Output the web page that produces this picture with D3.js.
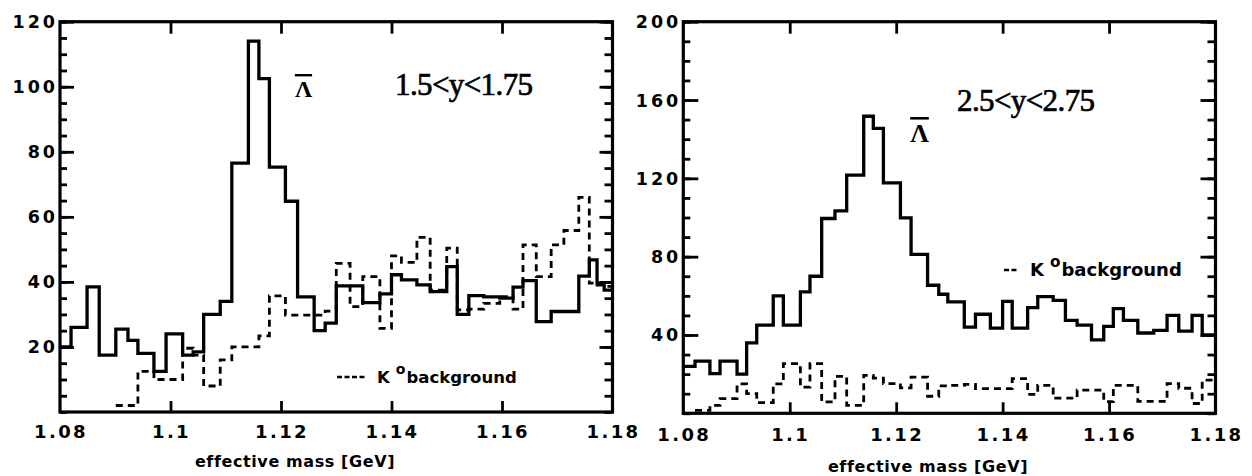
<!DOCTYPE html>
<html><head><meta charset="utf-8">
<script src="https://cdn.jsdelivr.net/npm/d3@7"></script>
<style>
body{margin:0;background:#fff;}
svg{display:block;}
.lam{text-decoration:overline;text-decoration-thickness:2.5px;}
</style></head><body>
<svg id="c" width="1252" height="476"></svg>
<script>
// ---------------- data ----------------
const xTickValues = [1.08, 1.1, 1.12, 1.14, 1.16, 1.18];
const xTickLabels = ["1.08", "1.1", "1.12", "1.14", "1.16", "1.18"];
const xInnerTicks = [1.1, 1.12, 1.14, 1.16];
const leftYTicks = [20, 40, 60, 80, 100, 120];
const rightYTicks = [40, 80, 120, 160, 200];
const xTitle = "effective mass [GeV]";
const leftRange = "1.5<y<1.75";
const rightRange = "2.5<y<2.75";
const particleLabel = "Λ";   // drawn with an overline (anti-Lambda)

// left panel (1.5<y<1.75): bin edges [GeV], Lambda-bar signal, K0 background
const leftEdges = [1.0800,1.0820,1.0849,1.0871,1.0901,1.0923,1.0941,1.0970,1.0992,1.1022,
  1.1041,1.1060,1.1090,1.1111,1.1141,1.1160,1.1179,1.1208,1.1230,1.1260,1.1280,1.1300,
  1.1325,1.1348,1.1379,1.1400,1.1418,1.1446,1.1470,1.1500,1.1519,1.1540,1.1567,1.1596,
  1.1620,1.1638,1.1662,1.1689,1.1712,1.1739,1.1758,1.1772,1.1785,1.1800];
const leftSignal = [20,26,38.5,17.5,25.5,22,18,12.5,24,17.5,18.5,30,34,76.5,114,102.5,75.3,
  64.8,35.4,25,27.3,38.8,38.8,33.6,36.3,42.2,40.6,39.1,37,44.7,30,35.8,35.4,35,38.4,40.4,
  27.8,30.9,30.9,41.8,46.8,39.6,37.5];
const leftBackground = [null,null,null,null,2,2,12.5,10,10,19.6,17.5,8,16,20,20,23.4,35.7,
  29.8,29.8,29.8,31,45.7,32.4,41.6,25.7,48,46,53.7,37.5,50.4,31.4,31.6,33.4,35.5,31.6,51.4,
  41.6,51.4,55.8,66,39.6,39,38.6];

// right panel (2.5<y<2.75)
const rightEdges = [1.0800,1.0822,1.0850,1.0869,1.0901,1.0919,1.0938,1.0969,1.0988,1.1020,
  1.1038,1.1060,1.1085,1.1107,1.1139,1.1157,1.1176,1.1208,1.1228,1.1259,1.1280,1.1297,
  1.1328,1.1349,1.1377,1.1400,1.1418,1.1447,1.1466,1.1495,1.1518,1.1540,1.1567,1.1590,
  1.1608,1.1627,1.1654,1.1684,1.1709,1.1731,1.1756,1.1775,1.1800];
const rightSignal = [24,26.6,20.3,26.6,20,36,45,60,45,62,70,99.5,103.4,121.6,151.7,145.5,
  117.7,99.8,81.2,65.4,60.8,56.9,44,50.6,43.5,57.2,43.5,54,59.6,57.7,47.5,45,37.5,44.4,
  53.5,47.5,41,42.4,50,42,50,40];
const rightBackground = [null,1.5,4,7.5,15,10,5.5,15,25.4,13.4,25.4,5.8,18.9,4,19.4,18,
  15.2,13,18.5,8.7,14,14.3,14.8,12.6,12.6,12.6,17.7,9.7,14.3,7.7,7.7,11.8,11.8,6,14.3,
  14.3,6.1,6.1,15.2,12.8,5,16.9];

// ---------------- layout ----------------
const panels = [
  {edges:leftEdges, sig:leftSignal, bg:leftBackground, yTicks:leftYTicks, ymax:120, nMinor:24,
   x0:60, x1:612.5, top:21.7, bottom:412, majLen:14, minLen:7, rMajLen:13, rMinLen:8,
   range:leftRange, rangeX:395, rangeY:94.5, lamX:303.5, lamY:97, lamSize:24,
   legX:337, legY:383, legDashW:28, legSize:16.5, titleX:295, titleY:467, xLabY:438},
  {edges:rightEdges, sig:rightSignal, bg:rightBackground, yTicks:rightYTicks, ymax:200, nMinor:20,
   x0:683.3, x1:1215.5, top:21.7, bottom:413.3, majLen:15, minLen:7, rMajLen:15, rMinLen:8,
   range:rightRange, rangeX:957, rangeY:110.5, lamX:919.5, lamY:142, lamSize:26,
   legX:1004, legY:276, legDashW:14, legSize:18, titleX:928, titleY:472, xLabY:441}
];

const svg = d3.select("#c");
const sansB = "'DejaVu Sans', 'Liberation Sans', Arial, sans-serif";
const serif = "'Liberation Serif', 'Times New Roman', serif";

panels.forEach(p => {
  const x = d3.scaleLinear().domain([1.08, 1.18]).range([p.x0, p.x1]);
  const y = d3.scaleLinear().domain([0, p.ymax]).range([p.bottom, p.top]);
  const g = svg.append("g");

  const minor = y.ticks(p.nMinor);
  const tickStyle = sel => {
    sel.select(".domain").remove();
    sel.selectAll("line").attr("stroke", "#000").attr("stroke-width", 2.8);
    sel.selectAll("text").remove();
  };
  g.append("g").attr("transform", `translate(${p.x0},0)`)
    .call(d3.axisRight(y).tickValues(minor).tickSize(p.minLen)).call(tickStyle);
  g.append("g").attr("transform", `translate(${p.x0},0)`)
    .call(d3.axisRight(y).tickValues(p.yTicks).tickSize(p.majLen)).call(tickStyle);
  g.append("g").attr("transform", `translate(${p.x1},0)`)
    .call(d3.axisLeft(y).tickValues(minor).tickSize(p.rMinLen)).call(tickStyle);
  g.append("g").attr("transform", `translate(${p.x1},0)`)
    .call(d3.axisLeft(y).tickValues(p.yTicks).tickSize(p.rMajLen)).call(tickStyle);
  g.append("g").attr("transform", `translate(0,${p.top})`)
    .call(d3.axisBottom(x).tickValues(xInnerTicks).tickSize(12)).call(tickStyle);
  g.append("g").attr("transform", `translate(0,${p.bottom})`)
    .call(d3.axisTop(x).tickValues(xInnerTicks).tickSize(11)).call(tickStyle);

  g.append("rect").attr("x", p.x0).attr("y", p.top)
    .attr("width", p.x1 - p.x0).attr("height", p.bottom - p.top)
    .attr("fill", "none").attr("stroke", "#000").attr("stroke-width", 3.2);

  // y labels
  g.selectAll(".yl").data(p.yTicks).enter().append("text")
    .attr("x", p.x0 - 2).attr("y", d => y(d) + 6.5)
    .attr("text-anchor", "end")
    .attr("font-family", sansB).attr("font-weight", "bold").attr("font-size", 17.5)
    .attr("letter-spacing", 3)
    .text(d => d);

  // x labels
  g.selectAll(".xl").data(xTickValues).enter().append("text")
    .attr("x", (d) => x(d) + 1).attr("y", p.xLabY)
    .attr("text-anchor", "middle")
    .attr("font-family", sansB).attr("font-weight", "bold").attr("font-size", 18)
    .attr("letter-spacing", 2.4)
    .text((d, i) => xTickLabels[i]);

  // axis title
  g.append("text").attr("x", p.titleX).attr("y", p.titleY).attr("text-anchor", "middle")
    .attr("font-family", sansB).attr("font-weight", "bold").attr("font-size", 16)
    .attr("letter-spacing", 0.6).text(xTitle);

  // histograms
  const pts = (vals) => {
    const a = [];
    vals.forEach((v, i) => { a.push({x: p.edges[i], v}); a.push({x: p.edges[i + 1], v}); });
    return a;
  };
  const line = d3.line().defined(d => d.v != null).x(d => x(d.x)).y(d => y(d.v));
  g.append("path").attr("d", line(pts(p.bg))).attr("fill", "none")
    .attr("stroke", "#000").attr("stroke-width", 2.8).attr("stroke-dasharray", "7,5");
  g.append("path").attr("d", line(pts(p.sig))).attr("fill", "none")
    .attr("stroke", "#000").attr("stroke-width", 3.3).attr("stroke-linejoin", "miter");

  // annotations
  g.append("text").attr("x", p.rangeX).attr("y", p.rangeY)
    .attr("font-family", serif).attr("font-size", 31).attr("letter-spacing", -0.6)
    .attr("stroke", "#000").attr("stroke-width", 0.7)
    .text(p.range);
  g.append("text").attr("class", "lam").attr("x", p.lamX).attr("y", p.lamY)
    .attr("text-anchor", "middle")
    .attr("font-family", serif).attr("font-weight", "bold").attr("font-size", p.lamSize)
    .text(particleLabel);

  // legend
  g.append("line").attr("x1", p.legX).attr("x2", p.legX + p.legDashW)
    .attr("y1", p.legY - 6).attr("y2", p.legY - 6)
    .attr("stroke", "#000").attr("stroke-width", 2.4).attr("stroke-dasharray", "5,2.5");
  const lt = g.append("text").attr("x", p.legX + p.legDashW + 12).attr("y", p.legY)
    .attr("font-family", sansB).attr("font-weight", "bold").attr("font-size", p.legSize);
  lt.append("tspan").text("K");
  lt.append("tspan").attr("dx", 6).attr("dy", -9).attr("font-size", p.legSize * 0.85).text("o");
  lt.append("tspan").attr("dx", 1).attr("dy", 9).text("background");
});
</script>
</body></html>
